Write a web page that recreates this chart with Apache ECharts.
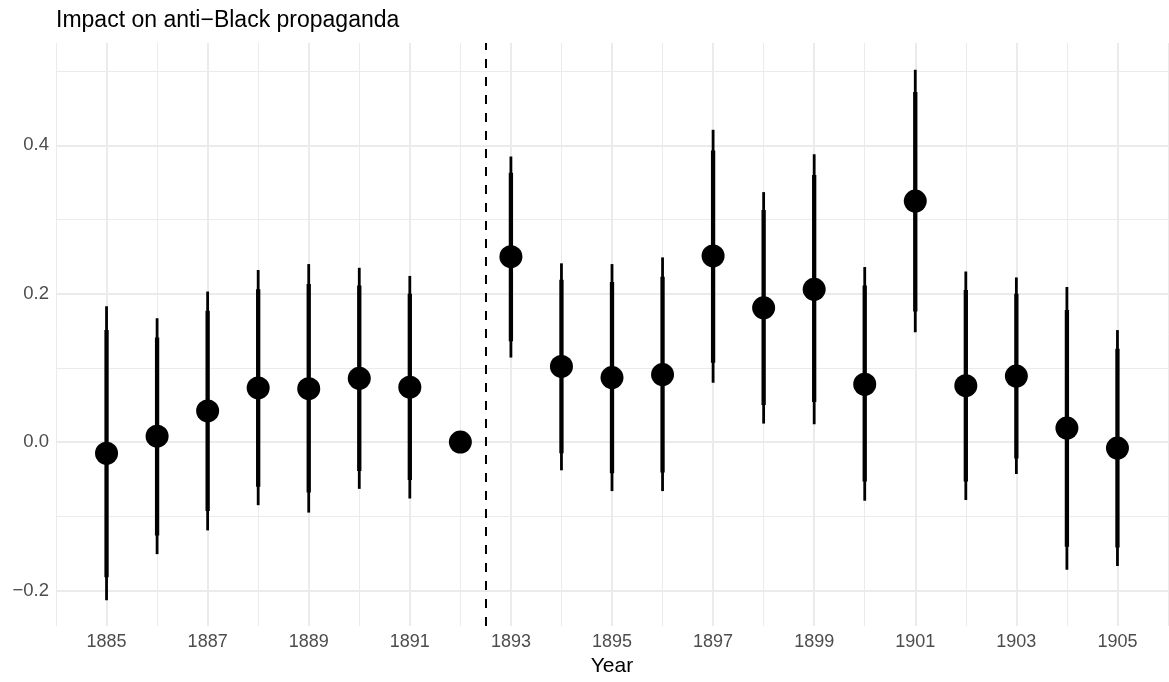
<!DOCTYPE html>
<html>
<head>
<meta charset="utf-8">
<title>Impact on anti-Black propaganda</title>
<script src="https://cdn.jsdelivr.net/npm/echarts@6/dist/echarts.min.js"></script>
<style>
  html, body { margin: 0; padding: 0; background: #fff; }
  #chart { width: 1169px; height: 682px; }
</style>
</head>
<body>
<div id="chart"></div>
<script>
// event-study estimates
var years = [1885, 1886, 1887, 1888, 1889, 1890, 1891, 1892, 1893, 1894, 1895,
             1896, 1897, 1898, 1899, 1900, 1901, 1902, 1903, 1904, 1905];
var est   = [-0.015, 0.008, 0.042, 0.073, 0.072, 0.086, 0.074, 0.000, 0.250, 0.102, 0.087,
             0.091, 0.251, 0.181, 0.206, 0.078, 0.325, 0.076, 0.089, 0.019, -0.008];
// 95% interval (thin)
var lo95  = [-0.213, -0.151, -0.119, -0.085, -0.095, -0.063, -0.076, null, 0.114, -0.038, -0.066,
             -0.066, 0.080, 0.025, 0.024, -0.079, 0.148, -0.078, -0.043, -0.172, -0.167];
var hi95  = [0.183, 0.167, 0.203, 0.232, 0.240, 0.235, 0.224, null, 0.385, 0.241, 0.240,
             0.249, 0.421, 0.337, 0.388, 0.236, 0.502, 0.230, 0.222, 0.209, 0.151];
// 90% interval (thick)
var lo90  = [-0.182, -0.126, -0.093, -0.060, -0.068, -0.039, -0.051, null, 0.136, -0.015, -0.042,
             -0.041, 0.107, 0.050, 0.054, -0.053, 0.176, -0.053, -0.022, -0.141, -0.142];
var hi90  = [0.151, 0.141, 0.177, 0.206, 0.213, 0.211, 0.200, null, 0.363, 0.219, 0.216,
             0.223, 0.393, 0.313, 0.360, 0.211, 0.472, 0.205, 0.200, 0.178, 0.126];

var xMajor = [1885, 1887, 1889, 1891, 1893, 1895, 1897, 1899, 1901, 1903, 1905];
var xMinor = [1884, 1886, 1888, 1890, 1892, 1894, 1896, 1898, 1900, 1902, 1904, 1906];
var yMajor = [-0.2, 0, 0.2, 0.4];
var yMinor = [-0.1, 0.1, 0.3, 0.5];
var treatYear = 1892.5;

var GRID = '#ebebeb';
var TXT = '#4d4d4d';
var FONT = 'Liberation Sans, Arial, sans-serif';

var barData = [];
var pointData = [];
for (var i = 0; i < years.length; i++) {
  pointData.push([years[i], est[i]]);
  if (lo95[i] != null) barData.push([years[i], lo95[i], hi95[i], lo90[i], hi90[i]]);
}

function renderBars(params, api) {
  var x = api.value(0);
  var a = api.coord([x, api.value(1)]);
  var b = api.coord([x, api.value(2)]);
  var c = api.coord([x, api.value(3)]);
  var d = api.coord([x, api.value(4)]);
  return {
    type: 'group',
    children: [
      { type: 'line', shape: { x1: a[0], y1: a[1], x2: b[0], y2: b[1] },
        style: { stroke: '#000', lineWidth: 2.8 } },
      { type: 'line', shape: { x1: c[0], y1: c[1], x2: d[0], y2: d[1] },
        style: { stroke: '#000', lineWidth: 4.3 } }
    ]
  };
}

function fmtY(v) {
  return v.toFixed(1).replace('-', '\u2212');
}

var chart = echarts.init(document.getElementById('chart'));
chart.setOption({
  animation: false,
  backgroundColor: '#fff',
  title: {
    text: 'Impact on anti\u2212Black propaganda',
    left: 56, top: 9, padding: 0,
    textStyle: { fontFamily: FONT, fontSize: 23, fontWeight: 'normal', color: '#000' }
  },
  grid: { left: 56, right: 1, top: 43, bottom: 55 },
  xAxis: [
    {
      type: 'value', min: 1884, max: 1906,
      name: 'Year', nameLocation: 'middle', nameGap: 29,
      nameTextStyle: { fontFamily: FONT, fontSize: 21, color: '#000' },
      axisLine: { show: false },
      axisTick: { show: false, customValues: xMajor },
      axisLabel: { customValues: xMajor, margin: 7, color: TXT, fontSize: 18,
                   fontFamily: FONT, formatter: function (v) { return String(v); } },
      splitLine: { show: true, lineStyle: { color: GRID, width: 2 } }
    },
    {
      type: 'value', min: 1884, max: 1906, position: 'bottom',
      axisLine: { show: false },
      axisTick: { show: false, customValues: xMinor },
      axisLabel: { show: false },
      splitLine: { show: true, lineStyle: { color: GRID, width: 1 } }
    }
  ],
  yAxis: [
    {
      type: 'value', min: -0.248, max: 0.538,
      axisLine: { show: false },
      axisTick: { show: false, customValues: yMajor },
      axisLabel: { customValues: yMajor, margin: 7, color: TXT, fontSize: 18.5,
                   fontFamily: FONT, formatter: fmtY },
      splitLine: { show: true, lineStyle: { color: GRID, width: 2 } }
    },
    {
      type: 'value', min: -0.248, max: 0.538, position: 'left',
      axisLine: { show: false },
      axisTick: { show: false, customValues: yMinor },
      axisLabel: { show: false },
      splitLine: { show: true, lineStyle: { color: GRID, width: 1 } }
    }
  ],
  series: [
    {
      type: 'custom',
      xAxisIndex: 0, yAxisIndex: 0,
      renderItem: renderBars,
      data: barData,
      z: 2,
      silent: true
    },
    {
      type: 'scatter',
      xAxisIndex: 0, yAxisIndex: 0,
      data: pointData,
      symbol: 'circle', symbolSize: 23,
      itemStyle: { color: '#000', opacity: 1 },
      z: 3,
      silent: true,
      markLine: {
        silent: true,
        symbol: ['none', 'none'],
        label: { show: false },
        lineStyle: { color: '#000', width: 2, type: [9, 9] },
        data: [{ xAxis: treatYear }]
      }
    }
  ]
});
</script>
</body>
</html>
